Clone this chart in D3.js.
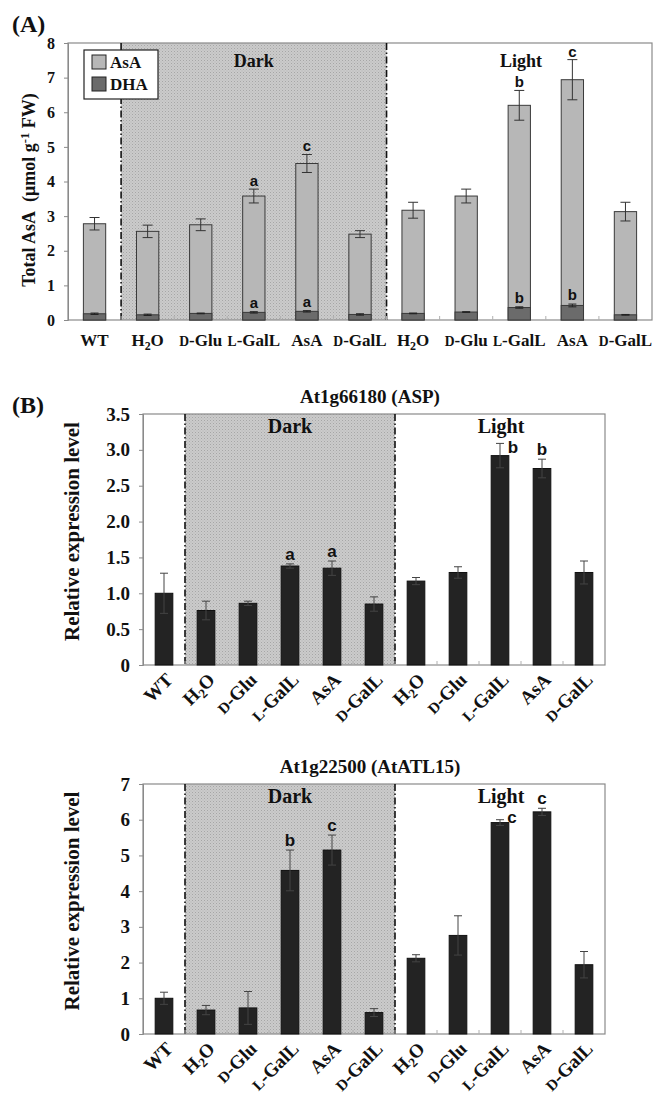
<!DOCTYPE html>
<html>
<head>
  <meta charset="utf-8">
  <script src="https://d3js.org/d3.v7.min.js"></script>
</head>
<style>
  body { margin: 0; background: #fff; }
  svg { display: block; }
  .serif { font-family: "Liberation Serif", "Times New Roman", serif; font-weight: bold; fill: #111; }
  .sans { font-family: "Liberation Sans", Arial, sans-serif; font-weight: bold; fill: #111; }
  .frame { fill: none; stroke: #8a8a8a; stroke-width: 1.2px; }
  .divider { stroke: #111; stroke-width: 1.6px; stroke-dasharray: 7 2.5 1.5 2.5; }
</style>
<body>
  <svg id="chart" width="666" height="1106"></svg>
  <script>
    // x categories (same for all three panels)
    const groups = ["WT", "H2O", "D-Glu", "L-GalL", "AsA", "D-GalL", "H2O", "D-Glu", "L-GalL", "AsA", "D-GalL"];

    // (A) total AsA and DHA, umol g-1 FW
    const totalAsA = [2.78, 2.56, 2.75, 3.58, 4.52, 2.48, 3.17, 3.58, 6.2, 6.94, 3.13];
    const totalErr = [0.18, 0.18, 0.17, 0.2, 0.26, 0.1, 0.23, 0.2, 0.43, 0.58, 0.27];
    const dhaVal = [0.18, 0.15, 0.19, 0.22, 0.25, 0.16, 0.19, 0.23, 0.36, 0.42, 0.15];
    const dhaErr = [0.02, 0.02, 0.01, 0.02, 0.02, 0.02, 0.01, 0.01, 0.02, 0.04, 0.01];
    const totalLetters = ["", "", "", "a", "c", "", "", "", "b", "c", ""];
    const dhaLetters = ["", "", "", "a", "a", "", "", "", "b", "b", ""];

    // (B) At1g66180 (ASP)
    const aspMean = [1.0, 0.76, 0.86, 1.38, 1.35, 0.85, 1.17, 1.29, 2.92, 2.74, 1.29];
    const aspErr = [0.28, 0.13, 0.03, 0.03, 0.1, 0.1, 0.05, 0.08, 0.17, 0.13, 0.16];
    const aspLetters = ["", "", "", "a", "a", "", "", "", "b", "b", ""];

    // (B) At1g22500 (AtATL15)
    const atlMean = [1.0, 0.67, 0.73, 4.58, 5.15, 0.6, 2.12, 2.76, 5.92, 6.22, 1.94];
    const atlErr = [0.17, 0.13, 0.46, 0.57, 0.42, 0.11, 0.1, 0.55, 0.08, 0.1, 0.37];
    const atlLetters = ["", "", "", "b", "c", "", "", "", "c", "c", ""];

    const svg = d3.select("#chart");
    const idx = d3.range(groups.length);

    // dotted grey fill of the dark period
    const pat = svg.append("defs").append("pattern")
      .attr("id", "dots").attr("width", 3).attr("height", 3)
      .attr("patternUnits", "userSpaceOnUse");
    pat.append("rect").attr("width", 3).attr("height", 3).attr("fill", "#cbcbcb");
    pat.append("rect").attr("width", 1).attr("height", 1).attr("fill", "#a6a6a6");
    pat.append("rect").attr("x", 1.5).attr("y", 1.5).attr("width", 1).attr("height", 1).attr("fill", "#b6b6b6");

    // writes a category name with small-cap D/L and subscript 2
    function writeLabel(text, name) {
      text.text(null);
      if (name === "H2O") {
        text.append("tspan").text("H");
        text.append("tspan").attr("dy", 4).attr("font-size", "0.7em").text("2");
        text.append("tspan").attr("dy", -4).text("O");
      } else if (/^[DL]-/.test(name)) {
        text.append("tspan").attr("font-size", "0.8em").text(name[0]);
        text.append("tspan").text(name.slice(1));
      } else {
        text.text(name);
      }
    }

    function panel(opt) {
      const g = svg.append("g");
      const x = d3.scaleBand().domain(idx).range([opt.left, opt.right])
        .paddingInner(0.58).paddingOuter(0.29);
      const y = d3.scaleLinear().domain([0, opt.ymax]).range([opt.bottom, opt.top]);
      const half = x.step() * 0.29;

      // dark period background
      const x0 = x(1) - half, x1 = x(5) + x.bandwidth() + half;
      g.append("rect").attr("x", x0).attr("y", opt.top)
        .attr("width", x1 - x0).attr("height", opt.bottom - opt.top)
        .attr("fill", "url(#dots)");
      g.append("rect").attr("class", "frame").attr("x", opt.left).attr("y", opt.top)
        .attr("width", opt.right - opt.left).attr("height", opt.bottom - opt.top);
      [x0, x1].forEach(v => g.append("line").attr("class", "divider")
        .attr("x1", v).attr("x2", v).attr("y1", opt.top).attr("y2", opt.bottom));

      // small ticks between categories
      idx.slice(1).forEach(i => g.append("line")
        .attr("x1", x(i) - half).attr("x2", x(i) - half)
        .attr("y1", opt.bottom).attr("y2", opt.bottom - 4)
        .attr("stroke", "#b0b0b0"));

      // y axis
      const ya = g.append("g").attr("transform", `translate(${opt.left},0)`)
        .call(d3.axisLeft(y).tickValues(opt.ticks).tickFormat(opt.fmt)
          .tickSize(4).tickPadding(9));
      ya.select(".domain").attr("stroke", "#8a8a8a");
      ya.selectAll(".tick line").attr("stroke", "#8a8a8a");
      ya.selectAll(".tick text").attr("class", "serif")
        .style("font-size", opt.tickSize + "px");

      // x axis labels
      const xa = g.append("g").attr("transform", `translate(0,${opt.bottom})`)
        .call(d3.axisBottom(x).tickSize(0).tickFormat(i => groups[i]));
      xa.select(".domain").remove();
      xa.selectAll(".tick text").attr("class", "serif")
        .style("font-size", opt.labelSize + "px")
        .each(function (i) { writeLabel(d3.select(this), groups[i]); });
      if (opt.rotate) {
        xa.selectAll(".tick text")
          .attr("y", 0).attr("dy", 0)
          .attr("text-anchor", "end")
          .attr("transform", "translate(10,16) rotate(-45)");
      } else {
        xa.selectAll(".tick text").attr("y", 0).attr("dy", 0)
          .attr("transform", "translate(0,26)");
      }

      // period labels
      g.append("text").attr("class", "serif").attr("text-anchor", "middle")
        .attr("x", (x0 + x1) / 2).attr("y", opt.top + opt.periodDy)
        .style("font-size", opt.periodSize + "px").text("Dark");
      g.append("text").attr("class", "serif").attr("text-anchor", "middle")
        .attr("x", opt.lightX).attr("y", opt.top + opt.periodDy)
        .style("font-size", opt.periodSize + "px").text("Light");

      return { g, x, y };
    }

    function errorBars(p, vals, errs, cap, color) {
      const cx = i => p.x(i) + p.x.bandwidth() / 2;
      idx.forEach(i => {
        const yt = p.y(vals[i] + errs[i]), yb = p.y(vals[i] - errs[i]);
        p.g.append("line").attr("x1", cx(i)).attr("x2", cx(i)).attr("y1", yt).attr("y2", yb)
          .attr("stroke", color);
        [yt, yb].forEach(v => p.g.append("line")
          .attr("x1", cx(i) - cap / 2).attr("x2", cx(i) + cap / 2).attr("y1", v).attr("y2", v)
          .attr("stroke", color));
      });
    }

    function letters(p, vals, errs, labels, gap, nudge) {
      idx.forEach(i => {
        if (!labels[i]) return;
        const n = (nudge && nudge[i]) || [0, 0];
        p.g.append("text").attr("class", "sans").attr("text-anchor", "middle")
          .attr("x", p.x(i) + p.x.bandwidth() / 2 + n[0])
          .attr("y", p.y(vals[i] + errs[i]) - gap + n[1])
          .style("font-size", p.letterSize + "px").text(labels[i]);
      });
    }

    // ---------- (A) ----------
    const pa = panel({
      left: 68, right: 652, top: 43, bottom: 320, ymax: 8,
      ticks: d3.range(0, 9), fmt: d3.format("d"), tickSize: 16, labelSize: 17,
      periodDy: 24, periodSize: 18, lightX: 521, rotate: false
    });
    pa.letterSize = 15;
    pa.g.selectAll(".asa").data(idx).join("rect")
      .attr("x", i => pa.x(i)).attr("width", pa.x.bandwidth())
      .attr("y", i => pa.y(totalAsA[i])).attr("height", i => pa.y(0) - pa.y(totalAsA[i]))
      .attr("fill", "#b7b7b7").attr("stroke", "#3a3a3a");
    pa.g.selectAll(".dha").data(idx).join("rect")
      .attr("x", i => pa.x(i)).attr("width", pa.x.bandwidth())
      .attr("y", i => pa.y(dhaVal[i])).attr("height", i => pa.y(0) - pa.y(dhaVal[i]))
      .attr("fill", "#6b6b6b").attr("stroke", "#3a3a3a");
    errorBars(pa, totalAsA, totalErr, 10, "#333");
    errorBars(pa, dhaVal, dhaErr, 8, "#222");
    letters(pa, totalAsA, totalErr, totalLetters, 3);
    letters(pa, dhaVal, dhaErr, dhaLetters, 4);

    // legend
    const lg = pa.g.append("g").attr("transform", "translate(84,50)");
    lg.append("rect").attr("width", 74).attr("height", 49)
      .attr("fill", "#fff").attr("stroke", "#222").attr("stroke-width", 1.2);
    [["AsA", "#b7b7b7"], ["DHA", "#6b6b6b"]].forEach(([name, col], k) => {
      lg.append("rect").attr("x", 8).attr("y", 5 + k * 22).attr("width", 14).attr("height", 14)
        .attr("fill", col).attr("stroke", "#222");
      lg.append("text").attr("class", "serif").attr("x", 26).attr("y", 18 + k * 22)
        .style("font-size", "17px").text(name);
    });

    // y label (A)
    const yla = svg.append("text").attr("class", "serif").attr("text-anchor", "middle")
      .attr("transform", "translate(35,190) rotate(-90)").style("font-size", "18px");
    yla.append("tspan").text("Total AsA\u00a0\u00a0(\u03bcmol g");
    yla.append("tspan").attr("dy", -6).attr("font-size", "0.7em").text("-1");
    yla.append("tspan").attr("dy", 6).text(" FW)");

    svg.append("text").attr("class", "serif").attr("x", 12).attr("y", 32)
      .style("font-size", "24px").text("(A)");
    svg.append("text").attr("class", "serif").attr("x", 12).attr("y", 413)
      .style("font-size", "24px").text("(B)");

    // ---------- (B) expression panels ----------
    function exprPanel(top, bottom, ymax, ticks, fmt, mean, err, labs, title, nudge) {
      const p = panel({
        left: 143, right: 605, top: top, bottom: bottom, ymax: ymax,
        ticks: ticks, fmt: fmt, tickSize: 19, labelSize: 19,
        periodDy: 19, periodSize: 20, lightX: 501, rotate: true
      });
      p.letterSize = 17;
      p.g.selectAll(".bar").data(idx).join("rect")
        .attr("x", i => p.x(i)).attr("width", p.x.bandwidth())
        .attr("y", i => p.y(mean[i])).attr("height", i => p.y(0) - p.y(mean[i]))
        .attr("fill", "#232323").attr("stroke", "#111");
      errorBars(p, mean, err, 8, "#444");
      letters(p, mean, err, labs, 4, nudge);
      p.g.append("text").attr("class", "serif").attr("text-anchor", "middle")
        .attr("x", 370).attr("y", top - 11).style("font-size", "19px").text(title);
      p.g.append("text").attr("class", "serif").attr("text-anchor", "middle")
        .attr("transform", `translate(79,${(top + bottom) / 2 - 8}) rotate(-90)`)
        .style("font-size", "21px").text("Relative expression level");
      return p;
    }

    exprPanel(414, 665, 3.5, d3.range(0, 3.51, 0.5), v => v === 0 ? "0" : d3.format(".1f")(v),
      aspMean, aspErr, aspLetters, "At1g66180 (ASP)", { 8: [13, 14] });
    exprPanel(784, 1034, 7, d3.range(0, 8), d3.format("d"),
      atlMean, atlErr, atlLetters, "At1g22500 (AtATL15)", { 8: [12, 7] });
  </script>
</body>
</html>
